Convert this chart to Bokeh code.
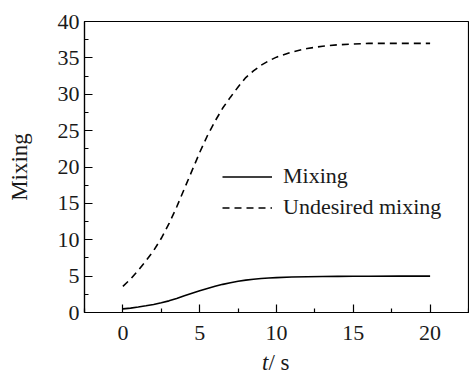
from bokeh.plotting import figure
from bokeh.models import FixedTicker, Legend, LegendItem, Div
from bokeh.layouts import column
from bokeh.embed import file_html
from bokeh.resources import INLINE

t_values = [0, 0.5, 1, 1.5, 2, 2.5, 3, 3.5, 4, 4.5, 5, 5.5, 6, 6.5, 7, 7.5, 8, 8.5, 9, 9.5, 10, 11, 12, 13, 14, 15, 16, 18, 20]
mixing = [0.5, 0.6, 0.75, 0.92, 1.1, 1.33, 1.6, 1.93, 2.3, 2.65, 3.0, 3.3, 3.6, 3.87, 4.1, 4.3, 4.45, 4.58, 4.68, 4.75,
          4.8, 4.87, 4.92, 4.95, 4.97, 4.98, 4.99, 5.0, 5.0]
undesired = [3.6, 4.6, 5.8, 7.1, 8.5, 10.2, 12.2, 14.5, 17.0, 19.5, 22.0, 24.3, 26.3, 28.1, 29.6, 31.0, 32.3, 33.2,
             34.0, 34.6, 35.1, 35.8, 36.3, 36.6, 36.8, 36.9, 37.0, 37.0, 37.0]

x_major = [0, 5, 10, 15, 20]
x_minor = [-2.5, 2.5, 7.5, 12.5, 17.5, 22.5]
y_major = [0, 5, 10, 15, 20, 25, 30, 35, 40]
y_minor = [2.5, 7.5, 12.5, 17.5, 22.5, 27.5, 32.5, 37.5]

FONT = "Liberation Serif"
TXT = "#1a1a1a"

p = figure(width=469, height=350, output_backend="svg", toolbar_location=None,
           x_range=(-2.5, 22.5), y_range=(0, 40),
           min_border_left=84, min_border_right=1, min_border_top=21, min_border_bottom=38)
p.margin = 0
p.xgrid.visible = False
p.ygrid.visible = False
p.outline_line_color = "black"
p.outline_line_width = 1.2
p.background_fill_color = "white"
p.border_fill_color = "white"

r1 = p.line(t_values, mixing, line_color="black", line_width=1.6)
r2 = p.line(t_values, undesired, line_color="black", line_width=1.6, line_dash="7 5")

for ax, major, minor in ((p.xaxis[0], x_major, x_minor), (p.yaxis[0], y_major, y_minor)):
    ax.ticker = FixedTicker(ticks=major, minor_ticks=minor)
    ax.major_tick_in = 8
    ax.major_tick_out = 0
    ax.minor_tick_in = 4
    ax.minor_tick_out = 0
    ax.major_tick_line_width = 1.2
    ax.minor_tick_line_width = 1.2
    ax.axis_line_width = 1.2
    ax.major_label_text_font = FONT
    ax.major_label_text_font_size = "22px"
    ax.major_label_text_color = TXT
    ax.axis_label_text_font = FONT
    ax.axis_label_text_font_size = "23px"
    ax.axis_label_text_font_style = "normal"
    ax.axis_label_text_color = TXT

p.xaxis[0].major_label_standoff = 13
p.yaxis[0].axis_label = "Mixing"
p.yaxis[0].major_label_standoff = 5
p.yaxis[0].axis_label_standoff = 23

legend = Legend(items=[LegendItem(label="Mixing", renderers=[r1]),
                       LegendItem(label="Undesired mixing", renderers=[r2])],
                location=(138, 92), orientation="vertical")
legend.background_fill_alpha = 0
legend.border_line_alpha = 0
legend.padding = 0
legend.margin = 0
legend.spacing = 5
legend.glyph_width = 50
legend.glyph_height = 23
legend.label_height = 23
legend.label_standoff = 11
legend.label_text_font = FONT
legend.label_text_font_size = "22px"
legend.label_text_color = TXT
p.add_layout(legend)

xlabel = Div(
    text=('<div style="margin:0;padding:0 0 0 262px;line-height:26px;height:26px;'
          'font-family:\'Liberation Serif\';font-size:23px;color:#1a1a1a;white-space:nowrap">'
          '<i>t</i>/ s</div>'),
    width=469, height=26, margin=0)

layout = column(p, xlabel, spacing=0, margin=0)

open("out.html", "w").write(file_html(layout, INLINE))
